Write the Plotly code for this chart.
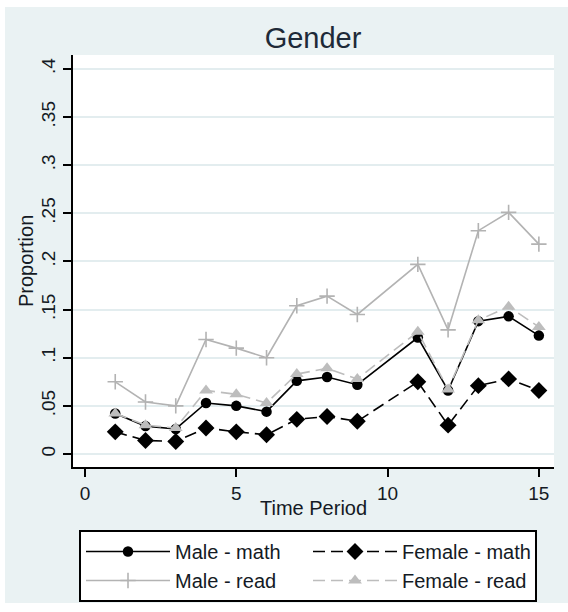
import plotly.graph_objects as go

periods = [1, 2, 3, 4, 5, 6, 7, 8, 9, 11, 12, 13, 14, 15]
male_math = [0.042, 0.029, 0.026, 0.053, 0.050, 0.044, 0.076, 0.080, 0.072, 0.121, 0.066, 0.138, 0.143, 0.123]
female_math = [0.023, 0.014, 0.013, 0.027, 0.023, 0.020, 0.036, 0.039, 0.034, 0.075, 0.030, 0.071, 0.078, 0.066]
male_read = [0.075, 0.054, 0.050, 0.119, 0.110, 0.100, 0.154, 0.164, 0.145, 0.197, 0.129, 0.232, 0.251, 0.218]
female_read = [0.042, 0.030, 0.027, 0.066, 0.062, 0.053, 0.083, 0.089, 0.078, 0.127, 0.067, 0.139, 0.153, 0.132]

y_ticks = [0, 0.05, 0.1, 0.15, 0.2, 0.25, 0.3, 0.35, 0.4]
y_labels = ["0", ".05", ".1", ".15", ".2", ".25", ".3", ".35", ".4"]
x_ticks = [0, 5, 10, 15]
x_labels = ["0", "5", "10", "15"]

FONT = "Liberation Sans, Arial, sans-serif"
TXT = "#141a24"
BG = "#eaf2f3"
GRAY1 = "#b3b3b3"
GRAY2 = "#bdbdbd"

fig = go.Figure()
fig.add_trace(go.Scatter(
    x=periods, y=male_math, name="Male - math", mode="lines+markers",
    line=dict(color="black", width=1.6),
    marker=dict(symbol="circle", size=10.5, color="black")))
fig.add_trace(go.Scatter(
    x=periods, y=female_math, name="Female - math", mode="lines+markers",
    line=dict(color="black", width=1.6, dash="12px,6px"),
    marker=dict(symbol="diamond", size=13, color="black")))
fig.add_trace(go.Scatter(
    x=periods, y=male_read, name="Male - read", mode="lines+markers",
    line=dict(color=GRAY1, width=1.6),
    marker=dict(symbol="cross-thin", size=11, color=GRAY1,
                line=dict(color=GRAY1, width=1.6))))
fig.add_trace(go.Scatter(
    x=periods, y=female_read, name="Female - read", mode="lines+markers",
    line=dict(color=GRAY2, width=1.6, dash="12px,6px"),
    marker=dict(symbol="triangle-up", size=12, color=GRAY2)))

L, R, T, B = 73, 14, 55, 145
W, H = 568, 612
pw, ph = W - L - R, H - T - B

def px_x(p):
    return (p - L) / pw

def px_y(p):
    return (H - B - p) / ph

shapes = [
    dict(type="rect", xref="paper", yref="paper", layer="below",
         x0=px_x(5), x1=px_x(570), y0=px_y(603), y1=px_y(7),
         fillcolor=BG, line=dict(width=0)),
    dict(type="rect", xref="paper", yref="paper", layer="below",
         x0=0, x1=1, y0=0, y1=1, fillcolor="white", line=dict(width=0)),
]

annotations = [
    dict(text="Proportion", xref="paper", yref="paper", x=px_x(26), y=px_y(261),
         xanchor="center", yanchor="middle", textangle=-90, showarrow=False,
         font=dict(size=20, color=TXT, family=FONT)),
    dict(text="Time Period", xref="paper", yref="paper", x=px_x(313), y=px_y(508),
         xanchor="center", yanchor="middle", showarrow=False,
         font=dict(size=20, color=TXT, family=FONT)),
]

fig.update_layout(
    width=W, height=H,
    margin=dict(l=L, r=R, t=T, b=B, pad=0, autoexpand=False),
    paper_bgcolor="white", plot_bgcolor="rgba(0,0,0,0)",
    shapes=shapes, annotations=annotations,
    font=dict(family=FONT, size=19, color=TXT),
    title=dict(text="Gender", x=px_x(313), xanchor="center", xref="paper",
               y=1 - 38 / H, yanchor="middle", yref="container",
               font=dict(size=29, color="#1e2a38", family=FONT)),
    xaxis=dict(range=[-0.396, 15.5], tickvals=x_ticks, ticktext=x_labels,
               showgrid=False, zeroline=False, showline=True, linecolor="black",
               linewidth=2, ticks="outside", ticklen=8, tickwidth=2, tickcolor="black",
               tickfont=dict(size=19, color=TXT)),
    yaxis=dict(range=[-0.0135, 0.4145], tickvals=y_ticks, ticktext=y_labels,
               showgrid=True, gridcolor="#e3edef", gridwidth=1.5,
               zeroline=False, showline=True, linecolor="black", linewidth=2,
               ticks="outside", ticklen=8, tickwidth=2, tickcolor="black",
               tickangle=-90, tickfont=dict(size=19, color=TXT)),
    legend=dict(orientation="h", x=px_x(79), xanchor="left", y=px_y(530), yanchor="top",
                bgcolor="white", bordercolor="black", borderwidth=2,
                font=dict(size=20, color=TXT), itemwidth=84,
                entrywidth=128, entrywidthmode="pixels", traceorder="normal",
                itemsizing="trace"),
)

fig.write_html("out.html", config={"displayModeBar": False},
               post_script="document.body.style.margin='0';")
